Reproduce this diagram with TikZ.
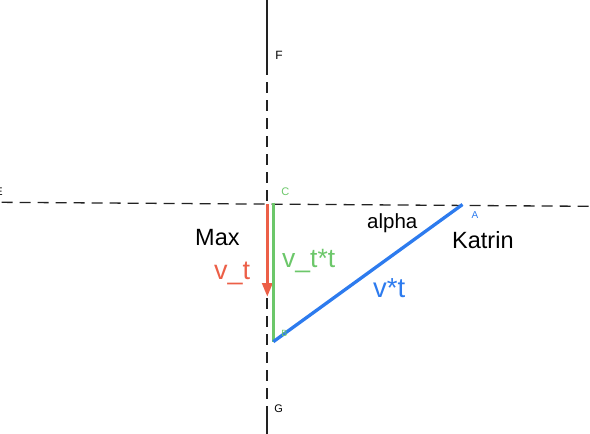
\documentclass[tikz,border=0pt]{standalone}
\usepackage{fontspec}
\setmainfont{Liberation Sans}
\usetikzlibrary{arrows.meta}
\definecolor{vred}{HTML}{EC5F47}
\definecolor{vgreen}{HTML}{6CC76A}
\definecolor{vblue}{HTML}{2D7BEE}
\definecolor{axis}{HTML}{222222}
\tikzset{
  axisline/.style={draw=axis, line width=1.3pt},
  axisdash/.style={axisline, dash pattern=on 11pt off 7pt},
  vec/.style={line width=3.3pt, line cap=butt},
  small/.style={inner sep=0pt, font=\fontsize{10}{12}\selectfont},
  biglabel/.style={inner sep=0pt, anchor=base west},
}
\begin{document}
\begin{tikzpicture}[x=1pt,y=-1pt]
\useasboundingbox (0,0) rectangle (590,434);
% points
\coordinate (Ftop) at (267,0);
\coordinate (F) at (267,75);
\coordinate (G) at (267,413);
\coordinate (Gbot) at (267,434);
\coordinate (E) at (0,202.3);
\coordinate (Eend) at (590,206.3);
\coordinate (C) at (273.3,202.5);
\coordinate (B) at (273.3,341.7);
\coordinate (A) at (462.5,204.5);
\coordinate (Rs) at (267.3,204);
\coordinate (Rt) at (267.3,297);
% axes
\draw[axisline] (Ftop) -- (F);
\draw[axisdash, dash phase=11pt] (F) -- (G);
\draw[axisline] (G) -- (Gbot);
\draw[axisdash, dash phase=-1.7pt] (E) -- (Eend);
% vectors
\draw[vec, draw=vred, -{Triangle[width=10pt,length=14pt]}] (Rs) -- (Rt);
\draw[vec, draw=vgreen] (C) -- (B);
\draw[vec, draw=vblue] (B) -- (A);
% point labels
\node[small, text=vgreen, font=\fontsize{11}{13}\selectfont] (lC) at (285.3,192) {C};
\node[small, text=vgreen, font=\fontsize{9}{11}\selectfont] (lB) at (284.5,333) {B};
\node[small, text=vblue] (lA) at (475,215.5) {A};
\node[small, font=\fontsize{12}{14}\selectfont] (lF) at (279,55) {F};
\node[small, font=\fontsize{11}{13}\selectfont] (lG) at (278.7,409) {G};
\node[small, font=\fontsize{11}{13}\selectfont] (lE) at (-1,192) {E};
% big labels
\node[biglabel, font=\fontsize{23.5}{28}\selectfont] (max) at (195,245) {Max};
\node[biglabel, text=vred, font=\fontsize{27}{32}\selectfont] (vt) at (214,279) {v\_t};
\node[biglabel, text=vgreen, font=\fontsize{26.5}{32}\selectfont] (vtt) at (282,267) {v\_t*t};
\node[biglabel, font=\fontsize{20.5}{24}\selectfont] (alpha) at (367,228) {alpha};
\node[biglabel, font=\fontsize{23.5}{28}\selectfont] (katrin) at (452,248) {Katrin};
\node[biglabel, text=vblue, font=\fontsize{27.5}{32}\selectfont] (vst) at (373,297) {v*t};
\end{tikzpicture}
\end{document}
